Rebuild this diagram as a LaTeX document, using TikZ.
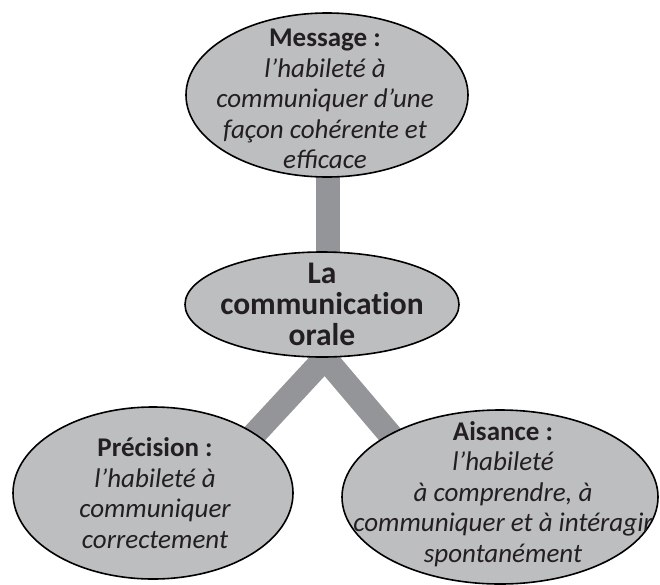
\documentclass[tikz,border=0pt]{standalone}
\usepackage{fontspec}
\setmainfont{Carlito}
\usetikzlibrary{shapes.geometric}
\definecolor{ellfill}{RGB}{189,190,192}
\definecolor{barcol}{RGB}{147,149,152}
\definecolor{txt}{RGB}{35,31,32}
\tikzset{
  bubble/.style={ellipse, draw=black, line width=1.6pt, fill=ellfill, inner sep=0pt},
  bartrack/.style={draw=barcol, line width=24pt, line cap=butt, line join=miter},
  bubtext/.style={align=center, text=txt, inner sep=0pt, font=\fontsize{27}{30.5}\selectfont},
}
\begin{document}
\begin{tikzpicture}[x=1pt,y=-1pt]
\useasboundingbox (0,0) rectangle (660,584);
% connectors (behind)
\coordinate (vtop) at (328,150);
\coordinate (vbot) at (328,280);
\coordinate (apex) at (325,358);
\coordinate (pl) at (229.5,461);
\coordinate (pr) at (420,470);
\draw[bartrack] (vtop) -- (vbot);
\draw[bartrack] (pl) -- (apex) -- (pr);
% bubbles
\node[bubble, minimum width=282pt, minimum height=164pt] (msg) at (327,95) {};
\node[bubble, minimum width=274pt, minimum height=105pt] (com) at (322,304.5) {};
\node[bubble, minimum width=280pt, minimum height=172pt] (prec) at (153,493) {};
\node[bubble, minimum width=316pt, minimum height=174pt] (ais) at (500,497) {};
% texts
\node[bubtext] (msgt) at ([shift={(-2,4)}]msg.center) {\textbf{Message :}\\\itshape l’habileté à\\\itshape communiquer d’une\\\itshape façon cohérente et\\\itshape efficace};
\node[bubtext, font=\bfseries\fontsize{31.5}{31}\selectfont] (comt) at ([shift={(0,0)}]com.center) {La\\communicat\kern0pt ion\\orale};
\node[bubtext] (prect) at ([shift={(2,0)}]prec.center) {\textbf{Précision :}\\\itshape l’habileté à\\\itshape communiquer\\\itshape correctement};
\node[bubtext] (aist) at ([shift={(3,-3)}]ais.center) {\textbf{Aisance :}\\\itshape l’habileté\\\itshape à comprendre, à\\\itshape communiquer et à intéragir\\\itshape spontanément};
\end{tikzpicture}
\end{document}
